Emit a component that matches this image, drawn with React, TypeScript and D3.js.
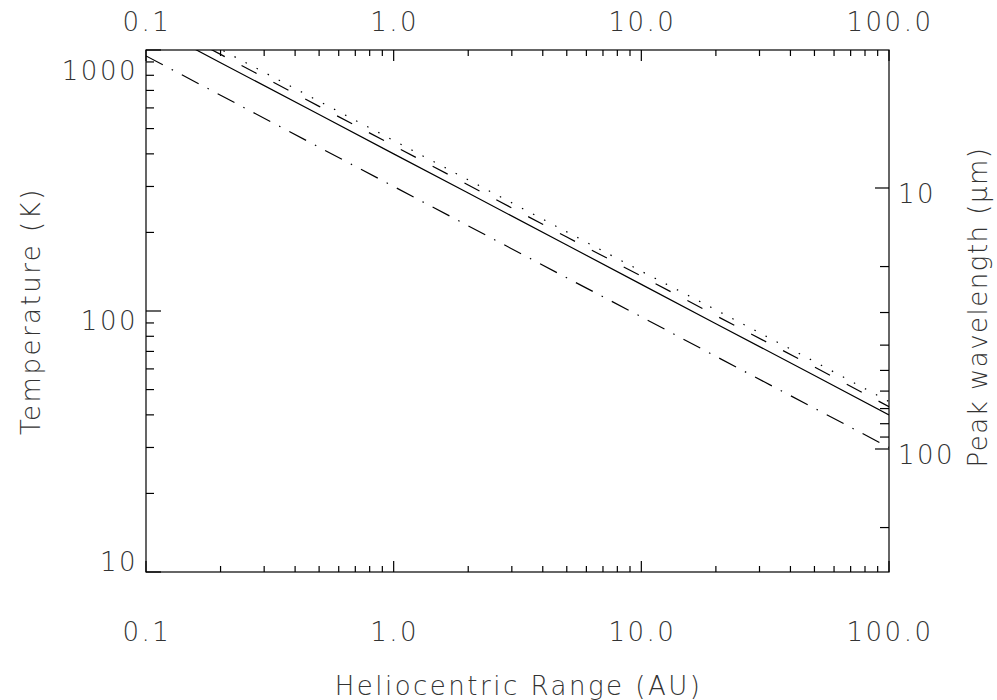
import React, { useEffect, useRef } from 'react'
import * as d3 from 'd3'

// heliocentric distance (AU) and temperatures (K)
const radii = [0.1, 0.2, 0.5, 1, 2, 5, 10, 20, 50, 100]
const tempSolid = [1265, 894, 566, 400, 283, 179, 126.5, 89.4, 56.6, 40]
const tempDashed = [1360, 962, 608, 430, 304, 192, 136, 96, 61, 43]
const tempDotted = [1423, 1006, 636, 450, 318, 201, 142, 101, 64, 45]
const tempDashDot = [949, 671, 424, 300, 212, 134, 95, 67, 42.4, 30]

const xMajor = [0.1, 1, 10, 100]
const xLabels = ['0.1', '1.0', '10.0', '100.0']
const yMajor = [10, 100, 1000]
const yLabels = ['10', '100', '1000']
const waveMajor = [10, 100]
const waveMinor = [20, 30, 40, 50, 60, 70, 80, 90, 200]

const WIEN = 2960 // K um, as used for the right axis

export default function App() {
  const ref = useRef<SVGSVGElement>(null)

  useEffect(() => {
    const node = ref.current
    if (!node) return
    const svg = d3.select(node)
    svg.selectAll('*').remove()

    const left = 146, right = 889, top = 50, bottom = 572
    const font = "'DejaVu Sans', sans-serif"
    const ink = '#000'
    const txt = '#333'

    const x = d3.scaleLog().domain([0.1, 100]).range([left, right])
    const y = d3.scaleLog().domain([10, 1000]).range([bottom, top])
    const yw = d3.scaleLog().domain([WIEN / 10, WIEN / 1000]).range([bottom, top])

    svg.append('defs').append('clipPath').attr('id', 'plotclip')
      .append('rect').attr('x', left).attr('y', top).attr('width', right - left).attr('height', bottom - top)

    // frame
    svg.append('rect')
      .attr('x', left).attr('y', top).attr('width', right - left).attr('height', bottom - top)
      .attr('fill', 'none').attr('stroke', ink).attr('stroke-width', 1.2)

    const ticks = svg.append('g').attr('stroke', ink).attr('stroke-width', 1.2)

    // x ticks, top and bottom
    const xMinor: number[] = []
    xMajor.slice(0, -1).forEach(d => { for (let k = 2; k < 10; k++) xMinor.push(d * k) })
    xMajor.forEach(d => {
      ticks.append('line').attr('x1', x(d)).attr('x2', x(d)).attr('y1', bottom).attr('y2', bottom - 11)
      ticks.append('line').attr('x1', x(d)).attr('x2', x(d)).attr('y1', top).attr('y2', top + 11)
    })
    xMinor.forEach(d => {
      ticks.append('line').attr('x1', x(d)).attr('x2', x(d)).attr('y1', bottom).attr('y2', bottom - 6)
      ticks.append('line').attr('x1', x(d)).attr('x2', x(d)).attr('y1', top).attr('y2', top + 6)
    })

    // left y ticks
    const yMinor: number[] = []
    yMajor.slice(0, -1).forEach(d => { for (let k = 2; k < 10; k++) yMinor.push(d * k) })
    yMajor.forEach(d => {
      ticks.append('line').attr('x1', left).attr('x2', left + 15).attr('y1', y(d)).attr('y2', y(d))
    })
    yMinor.forEach(d => {
      ticks.append('line').attr('x1', left).attr('x2', left + 8).attr('y1', y(d)).attr('y2', y(d))
    })

    // right (wavelength) ticks
    waveMajor.forEach(d => {
      ticks.append('line').attr('x1', right).attr('x2', right - 14).attr('y1', yw(d)).attr('y2', yw(d))
    })
    waveMinor.forEach(d => {
      ticks.append('line').attr('x1', right).attr('x2', right - 9).attr('y1', yw(d)).attr('y2', yw(d))
    })

    const text = svg.append('g')
      .attr('font-family', font).attr('font-size', 26).attr('font-weight', 200)
      .attr('fill', txt).attr('letter-spacing', 2.5)

    xMajor.forEach((d, i) => {
      text.append('text').attr('x', x(d) + 1).attr('y', 31).attr('text-anchor', 'middle').text(xLabels[i])
      text.append('text').attr('x', x(d) + 1).attr('y', 641).attr('text-anchor', 'middle').text(xLabels[i])
    })
    const yOffsets = [-1, 19, 30]
    yMajor.forEach((d, i) => {
      text.append('text').attr('x', 138).attr('y', y(d) + yOffsets[i])
        .attr('text-anchor', 'end').text(yLabels[i])
    })
    waveMajor.forEach(d => {
      text.append('text').attr('x', 898).attr('y', yw(d) + 15).text(String(d))
    })

    text.append('text').attr('x', (left + right) / 2 + 1).attr('y', 695)
      .attr('text-anchor', 'middle').text('Heliocentric Range (AU)')
    text.append('text')
      .attr('transform', `translate(40,${(top + bottom) / 2}) rotate(-90)`)
      .attr('text-anchor', 'middle').text('Temperature (K)')
    text.append('text')
      .attr('transform', `translate(987,${(top + bottom) / 2 - 4}) rotate(-90)`)
      .attr('text-anchor', 'middle').attr('letter-spacing', 1.5).text('Peak wavelength (μm)')

    // curves
    const line = d3.line<number>()
      .x((_, i) => x(radii[i]))
      .y(d => y(d))

    const series = [
      { values: tempSolid, dash: null },
      { values: tempDashed, dash: '17,19' },
      { values: tempDotted, dash: '1.5,11' },
      { values: tempDashDot, dash: '19,10,1.5,10' },
    ]

    svg.append('g').attr('clip-path', 'url(#plotclip)')
      .selectAll('path')
      .data(series)
      .join('path')
      .attr('d', d => line(d.values))
      .attr('fill', 'none')
      .attr('stroke', ink)
      .attr('stroke-width', 1.2)
      .attr('stroke-dasharray', d => d.dash)
  }, [])

  return (
    <svg ref={ref} width={997} height={700}
      style={{ position: 'absolute', left: 0, top: 0, background: '#fff' }} />
  )
}
